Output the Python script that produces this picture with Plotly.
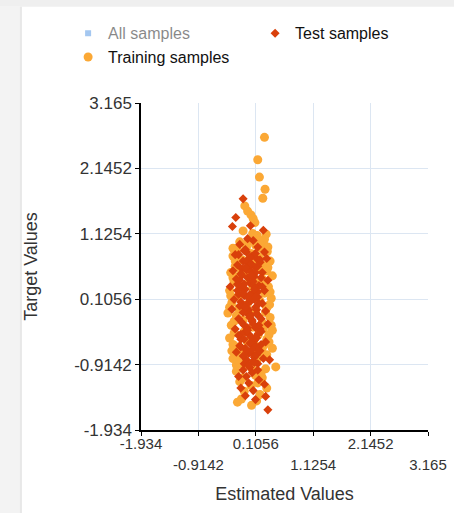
import plotly.graph_objects as go

# ---- data ----
tick_vals = [-1.934, -0.9142, 0.1056, 1.1254, 2.1452, 3.165]
tick_labels = ["-1.934", "-0.9142", "0.1056", "1.1254", "2.1452", "3.165"]

train_x = [0.26, 0.14, 0.17, 0.27, 0.23, -0.09, -0.04, 0.02, 0.06, 0.09, -0.12, 0.13, 0.29, 0.05,
           -0.05, 0.10, 0.20, -0.22, 0.31, -0.30, 0.02, 0.17, 0.36, -0.14, 0.25, -0.26, 0.08,
           -0.34, 0.30, 0.40, -0.08, 0.22, -0.28, 0.12, 0.33, -0.36, 0.05, 0.26, -0.20, 0.38,
           -0.32, 0.18, -0.05, 0.30, -0.39, 0.10, -0.24, 0.36, -0.12, 0.22, -0.33,
           0.05, 0.40, -0.28, 0.15, -0.36, 0.30, -0.05, 0.26, -0.22, 0.40, 0.08, -0.14, 0.20,
           -0.30, 0.12, 0.46, -0.02, 0.28,
           -0.24, 0.10, 0.22, -0.18, 0.02, 0.30, -0.10, 0.18, -0.15, 0.03, -0.22, 0.12,
           0.00, 0.15, -0.18, 0.28, -0.10, 0.34, 0.06, -0.26, 0.24, -0.16, 0.35, -0.30,
           -0.30, -0.26, 0.32, 0.28, -0.34, 0.36, -0.20, 0.24, -0.28, 0.34, -0.32, 0.30,
           -0.24, 0.38, -0.18, 0.26, -0.30, 0.22, -0.36, 0.32, 0.20, -0.22, 0.14, -0.12,
           0.04, -0.06, 0.16, -0.16, 0.10, 0.00]
train_y = [2.63, 2.28, 2.01, 1.82, 1.68, 1.56, 1.48, 1.42, 1.36, 1.30, 1.17, 1.10, 1.12, 1.13,
           0.98, 0.95, 0.90, 0.88, 0.85, 0.78, 0.82, 0.76, 0.70, 0.72, 0.64, 0.62, 0.66,
           0.52, 0.55, 0.47, 0.50, 0.42, 0.38, 0.36, 0.30, 0.24, 0.28, 0.20, 0.15, 0.12,
           0.05, 0.08, 0.02, -0.03, -0.11, -0.08, -0.15, -0.18, -0.22, -0.26, -0.30,
           -0.33, -0.38, -0.42, -0.45, -0.50, -0.52, -0.55, -0.60, -0.64, -0.66, -0.70, -0.74, -0.78,
           -0.82, -0.86, -0.95, -0.92, -0.98,
           -1.02, -1.08, -1.12, -1.18, -1.24, -1.28, -1.33, -1.38, -1.45, -1.55, -1.50, -1.48,
           0.40, 0.58, 0.30, -0.10, -0.40, -0.45, 0.12, 0.70, 0.98, -0.90, 0.02, -0.60,
           0.90, 0.46, 0.60, 0.34, 0.16, 0.22, -0.04, -0.36, -0.24, -0.56, -0.70, -0.76,
           -0.92, -0.30, 1.00, 1.04, 0.44, -0.66, -0.02, 0.92, -1.04, -0.84, -1.20, -1.12,
           -0.98, 0.92, 1.02, 0.56, -0.62, 0.70]

test_x = [-0.12, -0.25, -0.31, 0.01, 0.24, -0.04, 0.06,
          -0.18, 0.14, -0.08, 0.26, -0.26, 0.04, 0.30, -0.12, 0.18, -0.22, 0.10, -0.02,
          -0.30, 0.22, -0.14, 0.08, 0.32, -0.24, 0.00, 0.16, -0.35, -0.08, 0.26, 0.06, -0.20,
          0.14, -0.28, 0.02, 0.22, -0.12, 0.10, -0.32, 0.28, -0.04, 0.16, -0.20, 0.04, 0.32, -0.10,
          0.10, -0.26, 0.20, -0.02, 0.12, -0.16, 0.28, 0.02, -0.08, 0.18, -0.24, 0.06, 0.24, -0.06,
          0.14, 0.35,
          -0.12, 0.04, -0.20, 0.16, -0.02, 0.26, -0.16, 0.06, -0.08, 0.28, 0.10, 0.32,
          -0.04, 0.08, -0.16, 0.00, 0.12, -0.10, 0.18, -0.02, 0.02, -0.18, 0.08, -0.06,
          -0.06, 0.02, 0.10, -0.14, 0.20, -0.22, 0.06, -0.10, 0.14, -0.18, 0.00, 0.08,
          -0.04, 0.12, -0.12, 0.04, 0.16, -0.08, 0.02, -0.16, 0.10, -0.02, 0.06, 0.20,
          -0.10, 0.14, -0.06, 0.00, 0.08, -0.14,
          -0.20, -0.10, 0.00, 0.10, 0.18, -0.16, -0.06, 0.04, 0.14, 0.22, -0.22, -0.12,
          -0.02, 0.08, 0.16, -0.18, -0.08, 0.02, 0.12, 0.20, -0.14, -0.04, 0.06, 0.14,
          -0.20, -0.10, 0.00, 0.10, -0.16, -0.06, 0.04, 0.12, -0.12, -0.02, 0.08, 0.16,
          -0.08, 0.02, 0.10, -0.04]
test_y = [1.67, 1.38, 1.24, 1.25, 1.18, 1.05, 1.02,
          0.96, 0.92, 0.88, 0.84, 0.80, 0.78, 0.74, 0.70, 0.68, 0.64, 0.60, 0.62,
          0.55, 0.52, 0.48, 0.46, 0.40, 0.42, 0.36, 0.32, 0.30, 0.26, 0.24, 0.20, 0.18,
          0.14, 0.10, 0.08, 0.04, 0.00, -0.02, -0.05, -0.08, -0.12, -0.16, -0.20, -0.24, -0.28, -0.30,
          -0.34, -0.36, -0.40, -0.44, -0.50, -0.52, -0.56, -0.60, -0.66, -0.70, -0.72, -0.76, -0.82, -0.84,
          -0.90, -0.84,
          -1.00, -1.04, -1.10, -1.15, -1.20, -1.22, -1.28, -1.32, -1.40, -1.41, -1.46, -1.62,
          0.44, 0.30, 0.06, -0.18, 0.74, 0.16, -0.36, -0.06, 0.54, -0.62, -0.54, 0.84,
          0.70, 0.66, 0.52, 0.58, 0.44, 0.24, 0.38, 0.34, 0.22, 0.40, 0.18, 0.10,
          0.04, -0.06, -0.10, -0.22, -0.30, -0.40, -0.48, -0.44, -0.62, -0.74, -0.86, -0.60,
          -0.90, -1.00, -1.10, -0.96, -0.80, 0.28,
          0.80, 0.86, 0.76, 0.82, 0.72, 0.50, 0.56, 0.48, 0.62, 0.30, 0.34, 0.20,
          0.12, 0.26, 0.04, 0.00, -0.02, -0.14, -0.12, -0.20, -0.26, -0.34, -0.28, -0.44,
          -0.46, -0.52, -0.58, -0.50, -0.64, -0.70, -0.68, -0.76, -0.78, -0.92, -0.88, -0.70,
          0.60, 0.48, 0.14, -0.38]

ORANGE = "#FBA835"
RED = "#D9400B"
BLUE = "#4A90E2"
FONT = "Liberation Sans, Arial, sans-serif"

fig = go.Figure()
fig.add_trace(go.Scatter(x=[0.1056], y=[0.1056], mode="markers", name="All samples",
                         visible="legendonly", legendrank=1,
                         marker=dict(symbol="square", size=6, color=BLUE)))
fig.add_trace(go.Scatter(x=train_x, y=train_y, mode="markers", name="Training samples",
                         legendrank=3,
                         marker=dict(symbol="circle", size=9, color=ORANGE, line=dict(width=0))))
fig.add_trace(go.Scatter(x=test_x, y=test_y, mode="markers", name="Test samples",
                         legendrank=2,
                         marker=dict(symbol="diamond", size=7, color=RED, line=dict(width=0))))
# overlay axis used only for the staggered second row of x tick labels
fig.add_trace(go.Scatter(x=[None], y=[None], xaxis="x2", showlegend=False, hoverinfo="skip"))

even_text = [t if i % 2 == 0 else "" for i, t in enumerate(tick_labels)]
odd_vals = [v for i, v in enumerate(tick_vals) if i % 2 == 1]
odd_text = [t for i, t in enumerate(tick_labels) if i % 2 == 1]

axis_font = dict(family=FONT, size=15, color="#333333")
title_font = dict(family=FONT, size=18, color="#333333")

fig.update_layout(
    width=454, height=513,
    margin=dict(l=141, r=26, t=103, b=83, autoexpand=False),
    paper_bgcolor="white", plot_bgcolor="white",
    font=dict(family=FONT, color="#222222"),
    xaxis=dict(range=[-1.934, 3.165], tickmode="array", tickvals=tick_vals, ticktext=even_text,
               showgrid=True, gridcolor="#DCE6F2", gridwidth=1, zeroline=False,
               showline=True, linecolor="black", linewidth=1.5,
               ticks="outside", ticklen=4, tickcolor="black", tickfont=axis_font,
               ticklabelstandoff=-5, automargin=False),
    xaxis2=dict(overlaying="x", side="bottom", anchor="y", range=[-1.934, 3.165],
                tickmode="array", tickvals=odd_vals, ticktext=odd_text,
                showgrid=False, zeroline=False, showline=False, ticks="",
                tickfont=axis_font, ticklabelstandoff=24, automargin=False,
                title=dict(text="Estimated Values", standoff=15, font=title_font)),
    yaxis=dict(range=[-1.934, 3.165], tickmode="array", tickvals=tick_vals, ticktext=tick_labels,
               showgrid=True, gridcolor="#DCE6F2", gridwidth=1, zeroline=False,
               showline=True, linecolor="black", linewidth=1.5,
               ticks="outside", ticklen=4, tickcolor="black",
               tickfont=dict(family=FONT, size=17, color="#333333"),
               automargin=False,
               title=dict(text="Target Values", standoff=32, font=title_font)),
    legend=dict(orientation="h", x=-0.254, xanchor="left", y=1.265, yanchor="top",
                entrywidth=142, entrywidthmode="pixels", traceorder="normal",
                font=dict(family=FONT, size=16, color="#111111"),
                itemclick=False, bgcolor="rgba(0,0,0,0)"),
    showlegend=True,
    shapes=[
        dict(type="rect", xref="paper", yref="paper", x0=-0.4913, x1=1.0906, y0=1.294, y1=1.316,
             fillcolor="#EFEFEF", line=dict(width=0), layer="below"),
        dict(type="rect", xref="paper", yref="paper", x0=-0.4913, x1=-0.415, y0=-0.254, y1=1.294,
             fillcolor="#F3F3F3", line=dict(width=0), layer="below"),
        dict(type="rect", xref="paper", yref="paper", x0=-0.422, x1=-0.415, y0=-0.254, y1=1.294,
             fillcolor="#E8E8E8", line=dict(width=0), layer="below"),
    ],
)

fig.write_html("out.html", config={"displayModeBar": False},
               post_script="document.body.style.margin='0';")
